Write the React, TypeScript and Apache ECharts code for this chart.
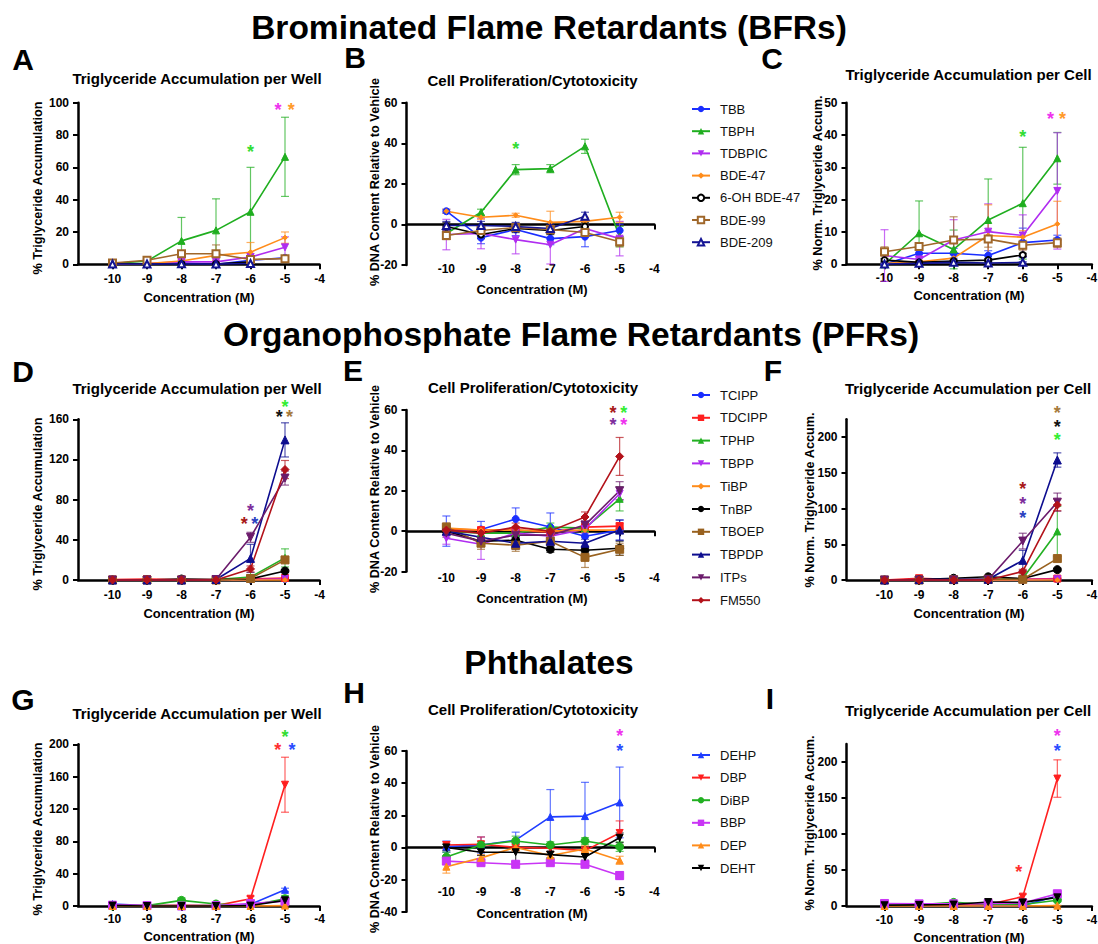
import React, { useEffect, useRef } from "react";
import * as echarts from "echarts";

// ---------------- DATA ----------------
const CONC = [-10, -9, -8, -7, -6, -5];
const X_TICKS = [-10, -9, -8, -7, -6, -5, -4];

const BFR = ["TBB", "TBPH", "TDBPIC", "BDE-47", "6-OH BDE-47", "BDE-99", "BDE-209"];
const PFR = ["TCIPP", "TDCIPP", "TPHP", "TBPP", "TiBP", "TnBP", "TBOEP", "TBPDP", "ITPs", "FM550"];
const PHT = ["DEHP", "DBP", "DiBP", "BBP", "DEP", "DEHT"];

type V = number | null;

// Panel A: Triglyceride accumulation per well (BFRs)
const A_mean: V[][] = [
  [0, 0.2, 0.8, 0, 2.5, 4],
  [0.5, 2, 14.5, 21, 32.5, 66.5],
  [0, 0.5, 1.5, 1.5, 4.5, 10.5],
  [0.3, 0.5, 2, 5.5, 7.5, 16.5],
  [0.5, 0.3, 0.2, 0.2, 1.5, null],
  [0.8, 2.5, 6.5, 6.5, 3, 3.5],
  [0.2, 0.2, 0.3, 0.2, 0.5, null],
];
const A_sem: V[][] = [
  [0.3, 0.3, 0.5, 0.3, 1, 1.2],
  [0.5, 1, 14.5, 19.5, 27.5, 24.5],
  [0.3, 0.5, 0.8, 0.8, 2, 6.5],
  [0.3, 0.5, 1, 3, 6, 3.5],
  [0.3, 0.3, 0.3, 0.3, 0.8, null],
  [0.5, 1, 1.5, 5.5, 2, 1.5],
  [0.2, 0.2, 0.2, 0.2, 0.3, null],
];
const A_stars: [number, number, string][] = [
  [-6, 72, "TBPH"],
  [-5.2, 98, "TDBPIC"],
  [-4.82, 98, "BDE-47"],
];

// Panel B: DNA content (BFRs)
const B_mean: V[][] = [
  [6.5, -6.5, -2.5, -7, -6, -3],
  [-4.5, 6, 27, 27.5, 38.5, -6],
  [-5, -4.5, -7.5, -10, -2, -7],
  [6.5, 3.5, 4.5, 1, 1.5, 3.5],
  [-1, -5, -2, -3, -1, null],
  [-5.5, -3, -1.5, -2.5, -4, -8.5],
  [-0.5, -0.5, -1, -2, 4, null],
];
const B_sem: V[][] = [
  [1, 3, 3, 3, 5, 3],
  [2, 1.5, 2.5, 2, 3.5, 5],
  [7.5, 7.5, 7, 9.5, 4, 8.5],
  [1, 1, 1, 5.5, 2, 2.5],
  [2, 2, 2, 2, 2, null],
  [2, 2, 2, 2, 2, 2.5],
  [2, 2, 2, 2, 2, null],
];
const B_stars: [number, number, string][] = [[-8, 39, "TBPH"]];

// Panel C: Triglyceride accumulation per cell (BFRs)
const C_mean: V[][] = [
  [0, 3.4, 3.4, 2.7, 6.7, 7.5],
  [0, 9.6, 4.6, 13.7, 18.9, 32.8],
  [2.7, 1.5, 7.5, 10.1, 8.9, 22.7],
  [0.3, 0.8, 1.9, 8.9, 8.4, 12.5],
  [1.3, 0.6, 1, 1.3, 2.9, null],
  [3.9, 5.5, 7.5, 7.8, 5.9, 6.7],
  [0.1, 0.3, 0.6, 0.4, 0.6, null],
];
const C_sem: V[][] = [
  [0.5, 1.5, 1.5, 1.5, 4.5, 1.5],
  [0.5, 10, 6, 12.7, 17.3, 8],
  [8, 1, 6.3, 8.6, 6.4, 18],
  [0.3, 0.5, 1, 9.5, 2, 7],
  [0.5, 0.3, 0.3, 0.5, 0.5, null],
  [1.5, 1, 7.2, 2.5, 1.5, 1.5],
  [0.1, 0.2, 0.2, 0.2, 0.2, null],
];
const C_stars: [number, number, string][] = [
  [-6, 40.7, "TBPH"],
  [-5.2, 46.2, "TDBPIC"],
  [-4.85, 46.2, "BDE-47"],
];

// Panel D: Triglyceride accumulation per well (PFRs)
const D_mean: V[][] = [
  [0, 0, 0, 0, 0.5, 1],
  [0.5, 1, 0.5, 0.5, 1, 2],
  [0, 0, 0, 0.5, 3, 22],
  [0, 0, 0, 0, 0.5, 1],
  [0, 0, 0, 0, 0, 0],
  [0, 0, 1, 0.5, 1, 9],
  [0, 0, 0, 0, 1.5, 20],
  [0, 0, 0, 0.5, 21.5, 139.5],
  [0, 0, 0, 0.5, 42.5, 101.5],
  [0, 0, 0, 0, 11, 110],
];
const D_sem: V[][] = [
  [0.3, 0.3, 0.3, 0.3, 0.5, 0.8],
  [0.5, 0.5, 0.5, 0.5, 0.8, 1],
  [0.3, 0.3, 0.3, 0.5, 1.5, 9],
  [0.3, 0.3, 0.3, 0.3, 0.5, 0.8],
  [0, 0, 0, 0, 0, 0],
  [0.3, 0.3, 0.5, 0.5, 0.8, 1.5],
  [0.3, 0.3, 0.3, 0.3, 1, 2.5],
  [0.3, 0.3, 0.3, 0.5, 14, 17],
  [0.3, 0.3, 0.3, 0.5, 5, 7],
  [0.3, 0.3, 0.3, 0.3, 3, 9],
];
const D_stars: [number, number, string][] = [
  [-6, 72.5, "ITPs"],
  [-6.18, 60, "FM550"],
  [-5.88, 60, "TBPDP"],
  [-5, 176, "TPHP"],
  [-5.17, 166.3, "TnBP"],
  [-4.87, 166.3, "TBOEP"],
];

// Panel E: DNA content (PFRs)
const E_mean: V[][] = [
  [0, 0.8, 6, 2, -2.5, 0.5],
  [1, 0.5, 0.5, -0.5, 2, 2.5],
  [0, -1, -1, 2, 1.5, 16],
  [-3.5, -6.5, -1, -2.5, 1, 18.5],
  [1.5, 0.5, 0.5, 0, 0.5, 0.5],
  [0, -5, -4.5, -9, -9.5, -8.5],
  [2, -6, -7, -5, -13, -9],
  [0, -3, -6, -5, -6, 0.5],
  [-1, -5, -2, -2, 3, 20],
  [0.5, -1, 2, 0, 7, 37],
];
const E_sem: V[][] = [
  [7.5, 4, 5.5, 7, 3, 5],
  [1, 1, 1, 1, 1.5, 1.5],
  [1.5, 2, 2, 2, 2, 6],
  [3, 7.5, 2, 2, 2, 3],
  [1, 1, 1, 1, 1, 1],
  [2, 2, 2, 1.5, 1.5, 3.5],
  [2, 3, 3, 2, 5, 3],
  [2, 2, 3, 2, 2, 5],
  [2, 2, 2, 2, 2, 4.5],
  [1, 1.5, 2, 1.5, 2.5, 9.4],
];
const E_stars: [number, number, string][] = [
  [-5.19, 60.3, "FM550"],
  [-4.88, 60.3, "TPHP"],
  [-5.19, 54.7, "ITPs"],
  [-4.88, 54.7, "TBPP"],
];

// Panel F: Triglyceride accumulation per cell (PFRs)
const F_mean: V[][] = [
  [0, 0, 0, 0, 0.5, 1],
  [0, 2.5, 0.5, 0.5, 1, 2],
  [0, 0, 0, 0.5, 2, 68],
  [0, 0, 0, 0, 0.5, 1],
  [0, 0, 0, 0, 0, 0],
  [0, 0.5, 2.5, 4.5, 2, 14.5],
  [0, 0, 0.5, 1, 1, 30],
  [0, 0.5, 1, 1, 27.5, 168],
  [0, 0, 0, 0.5, 54.5, 109],
  [0, 0, 0, 0, 12, 105],
];
const F_sem: V[][] = [
  [0.3, 0.3, 0.3, 0.3, 0.5, 0.8],
  [0.5, 1, 0.5, 0.5, 0.8, 1],
  [0.3, 0.3, 0.3, 0.5, 1.5, 35],
  [0.3, 0.3, 0.3, 0.3, 0.5, 0.8],
  [0, 0, 0, 0, 0, 0],
  [0.3, 0.5, 1, 1, 1, 2],
  [0.3, 0.3, 0.3, 0.5, 0.8, 3],
  [0.3, 0.3, 0.5, 0.5, 14, 10],
  [0.3, 0.3, 0.3, 0.5, 11, 12.7],
  [0.3, 0.3, 0.3, 0.3, 3, 8],
];
const F_stars: [number, number, string][] = [
  [-6, 132.4, "FM550"],
  [-6, 111.9, "ITPs"],
  [-6, 92.3, "TBPDP"],
  [-5, 239, "TBOEP"],
  [-5, 219.6, "TnBP"],
  [-5, 201, "TPHP"],
];

// Panel G: Triglyceride accumulation per well (phthalates)
const G_mean: V[][] = [
  [2.5, 0.5, 0.5, 0.5, 2, 20],
  [1, 0.5, 1, 0.5, 9, 150],
  [0, 0.5, 7, 2.5, 0.5, 9],
  [1, 0.5, 0, 0.5, 3, 6],
  [0, 0, 0, 0, 0, 0.5],
  [0.5, 0, 0, 0, 0.5, 7],
];
const G_sem: V[][] = [
  [1, 0.5, 0.5, 0.5, 1, 2],
  [0.5, 0.5, 0.5, 0.5, 3, 34],
  [0.5, 0.5, 3, 1, 0.5, 4],
  [0.5, 0.5, 0.5, 0.5, 1, 2],
  [0, 0, 0, 0, 0, 0.5],
  [0.5, 0.3, 0.3, 0.3, 0.5, 2],
];
const G_stars: [number, number, string][] = [
  [-5, 213.6, "DiBP"],
  [-5.21, 198, "DBP"],
  [-4.8, 198, "DEHP"],
];

// Panel H: DNA content (phthalates)
const H_mean: V[][] = [
  [0.5, 1.5, 4.5, 19, 19.5, 28],
  [1.5, 2, 0, -0.5, -2, 9],
  [-6, 1.5, 4, 1.5, 4, 0.5],
  [-8.5, -9.5, -10.5, -9.5, -10.5, -17.5],
  [-12, -6.5, 0, -5, -1, -8],
  [0, -3, -3, -4.5, -6, 6],
];
const H_sem: V[][] = [
  [3.5, 5, 5, 17, 21, 22],
  [2, 4.5, 2, 2, 2, 7.5],
  [3, 2, 3, 2, 2, 3],
  [2, 2, 2, 2, 2, 2.5],
  [4, 2, 2, 2, 2, 2.5],
  [2, 2, 6, 2, 2, 3],
];
const H_stars: [number, number, string][] = [
  [-5, 72, "BBP"],
  [-5, 62.7, "DEHP"],
];

// Panel I: Triglyceride accumulation per cell (phthalates)
const I_mean: V[][] = [
  [1.5, 0.5, 0.5, 0.5, 0.5, 14],
  [1, 1, 1.5, 2, 13, 177],
  [1, 1.5, 5, 2.5, 2, 8],
  [3.5, 3, 3, 3.5, 4, 17],
  [0, 0, 0, 0, 0, 0.5],
  [1, 1.5, 2, 5.5, 5, 12],
];
const I_sem: V[][] = [
  [1, 0.5, 0.5, 0.5, 0.5, 3],
  [0.5, 0.5, 0.5, 1, 3, 26],
  [0.5, 0.5, 1, 1, 1, 2],
  [1, 1, 1, 1, 1, 3],
  [0, 0, 0, 0, 0, 0.5],
  [0.5, 0.5, 1, 2, 2, 3],
];
const I_stars: [number, number, string][] = [
  [-6.12, 52.2, "DBP"],
  [-5, 241.6, "BBP"],
  [-5, 220.8, "DEHP"],
];

// ---------------- STYLES ----------------
const FONT = "'Liberation Sans', Arial, Helvetica, sans-serif";
const DOWN = "path://M0,0L10,0L5,9Z";

const STYLE: Record<string, { color: string; symbol: string; size: number }> = {
  TBB: { color: "#1a2eff", symbol: "circle", size: 7 },
  TBPH: { color: "#1fae1f", symbol: "triangle", size: 7 },
  TDBPIC: { color: "#b02cf0", symbol: DOWN, size: 7 },
  "BDE-47": { color: "#ff8c1a", symbol: "diamond", size: 5 },
  "6-OH BDE-47": { color: "#000000", symbol: "emptyCircle", size: 6 },
  "BDE-99": { color: "#a0672a", symbol: "emptyRect", size: 7 },
  "BDE-209": { color: "#141494", symbol: "emptyTriangle", size: 7 },
  TCIPP: { color: "#1a2eff", symbol: "circle", size: 7 },
  TDCIPP: { color: "#ff1f1f", symbol: "rect", size: 7 },
  TPHP: { color: "#22b022", symbol: "triangle", size: 7 },
  TBPP: { color: "#b02cf0", symbol: DOWN, size: 7 },
  TiBP: { color: "#ff8c1a", symbol: "diamond", size: 5 },
  TnBP: { color: "#000000", symbol: "circle", size: 8 },
  TBOEP: { color: "#98611f", symbol: "rect", size: 8 },
  TBPDP: { color: "#0d0d8f", symbol: "triangle", size: 8 },
  ITPs: { color: "#6b1b6b", symbol: DOWN, size: 8 },
  FM550: { color: "#b3121a", symbol: "diamond", size: 8 },
  DEHP: { color: "#1f3dff", symbol: "triangle", size: 7 },
  DBP: { color: "#ff1f1f", symbol: DOWN, size: 7 },
  DiBP: { color: "#22b022", symbol: "circle", size: 8 },
  BBP: { color: "#c935f5", symbol: "rect", size: 8 },
  DEP: { color: "#ff8c1a", symbol: "triangle", size: 7 },
  DEHT: { color: "#000000", symbol: DOWN, size: 7 },
};

const STAR: Record<string, string> = {
  TBPH: "#33dd33",
  TDBPIC: "#ee33ee",
  "BDE-47": "#ff9a2a",
  ITPs: "#7d2e9c",
  FM550: "#a81818",
  TBPDP: "#2a40c0",
  TPHP: "#33ee33",
  TnBP: "#111111",
  TBOEP: "#a67a3c",
  TBPP: "#ee33ee",
  DiBP: "#33dd33",
  DBP: "#ff3030",
  DEHP: "#2a4cff",
  BBP: "#ee33ee",
};

type Panel = {
  letter: string;
  title: string;
  yName: string;
  names: string[];
  mean: V[][];
  sem: V[][];
  stars: [number, number, string][];
  box: { left: number; top: number; width: number; height: number };
  xMin: number;
  yMin: number;
  yMax: number;
  yStep: number;
  yLabelMax: number;
  zeroLine: boolean;
  labelY: number;
  letterPos: [number, number];
  titlePos: [number, number];
  yNamePos: [number, number];
  xNamePos: [number, number];
};

const TG_WELL = "Triglyceride Accumulation per Well";
const PROLIF = "Cell Proliferation/Cytotoxicity";
const TG_CELL = "Triglyceride Accumulation per Cell";
const Y_WELL = "% Triglyceride Accumulation";
const Y_DNA = "% DNA Content Relative to Vehicle";
const Y_CELL = "% Norm. Triglyceride Accum.";

const COL1 = { left: 78, width: 241.5, xMin: -11 };
const COL2 = { left: 406.5, width: 247.8, xMin: -11.15 };
const COL3 = { left: 846.5, width: 245.4, xMin: -11.1 };

const PANELS: Panel[] = [
  { letter: "A", title: TG_WELL, yName: Y_WELL, names: BFR, mean: A_mean, sem: A_sem, stars: A_stars,
    box: { left: COL1.left, width: COL1.width, top: 102.7, height: 161.6 }, xMin: COL1.xMin,
    yMin: 0, yMax: 100, yStep: 20, yLabelMax: 100, zeroLine: false, labelY: 279,
    letterPos: [23, 59], titlePos: [197, 78], yNamePos: [38, 188], xNamePos: [199, 297] },
  { letter: "B", title: PROLIF, yName: Y_DNA, names: BFR, mean: B_mean, sem: B_sem, stars: B_stars,
    box: { left: COL2.left, width: COL2.width, top: 102.7, height: 162.3 }, xMin: COL2.xMin,
    yMin: -20, yMax: 60, yStep: 20, yLabelMax: 60, zeroLine: true, labelY: 269.3,
    letterPos: [355, 57], titlePos: [532.5, 80], yNamePos: [375, 182], xNamePos: [532, 289.3] },
  { letter: "C", title: TG_CELL, yName: Y_CELL, names: BFR, mean: C_mean, sem: C_sem, stars: C_stars,
    box: { left: COL3.left, width: COL3.width, top: 102.7, height: 161.6 }, xMin: COL3.xMin,
    yMin: 0, yMax: 50, yStep: 10, yLabelMax: 50, zeroLine: false, labelY: 278.3,
    letterPos: [772, 58], titlePos: [968.5, 74], yNamePos: [818, 183], xNamePos: [969, 295] },
  { letter: "D", title: TG_WELL, yName: Y_WELL, names: PFR, mean: D_mean, sem: D_sem, stars: D_stars,
    box: { left: COL1.left, width: COL1.width, top: 419.3, height: 160.7 }, xMin: COL1.xMin,
    yMin: 0, yMax: 160, yStep: 40, yLabelMax: 160, zeroLine: false, labelY: 595,
    letterPos: [23, 371], titlePos: [197, 388], yNamePos: [38, 504], xNamePos: [199, 613] },
  { letter: "E", title: PROLIF, yName: Y_DNA, names: PFR, mean: E_mean, sem: E_sem, stars: E_stars,
    box: { left: COL2.left, width: COL2.width, top: 410, height: 161.5 }, xMin: COL2.xMin,
    yMin: -20, yMax: 60, yStep: 20, yLabelMax: 60, zeroLine: true, labelY: 577.7,
    letterPos: [353, 370], titlePos: [533, 387], yNamePos: [375, 489], xNamePos: [532, 598] },
  { letter: "F", title: TG_CELL, yName: Y_CELL, names: PFR, mean: F_mean, sem: F_sem, stars: F_stars,
    box: { left: COL3.left, width: COL3.width, top: 419.3, height: 160.7 }, xMin: COL3.xMin,
    yMin: 0, yMax: 225, yStep: 50, yLabelMax: 200, zeroLine: false, labelY: 595,
    letterPos: [773, 370], titlePos: [968, 388], yNamePos: [810, 500], xNamePos: [969, 613] },
  { letter: "G", title: TG_WELL, yName: Y_WELL, names: PHT, mean: G_mean, sem: G_sem, stars: G_stars,
    box: { left: COL1.left, width: COL1.width, top: 744.3, height: 161.7 }, xMin: COL1.xMin,
    yMin: 0, yMax: 200, yStep: 40, yLabelMax: 200, zeroLine: false, labelY: 919.3,
    letterPos: [23, 699], titlePos: [197, 713], yNamePos: [38, 829], xNamePos: [199, 936.7] },
  { letter: "H", title: PROLIF, yName: Y_DNA, names: PHT, mean: H_mean, sem: H_sem, stars: H_stars,
    box: { left: COL2.left, width: COL2.width, top: 751, height: 160.7 }, xMin: COL2.xMin,
    yMin: -40, yMax: 60, yStep: 20, yLabelMax: 60, zeroLine: true, labelY: 892,
    letterPos: [354, 692], titlePos: [533, 709], yNamePos: [375, 829], xNamePos: [532, 913] },
  { letter: "I", title: TG_CELL, yName: Y_CELL, names: PHT, mean: I_mean, sem: I_sem, stars: I_stars,
    box: { left: COL3.left, width: COL3.width, top: 744, height: 162 }, xMin: COL3.xMin,
    yMin: 0, yMax: 225, yStep: 50, yLabelMax: 200, zeroLine: false, labelY: 920,
    letterPos: [770, 698], titlePos: [968, 710], yNamePos: [810, 823], xNamePos: [969, 937.7] },
];

const SECTIONS: [string, number, number][] = [
  ["Brominated Flame Retardants (BFRs)", 549, 27],
  ["Organophosphate Flame Retardants (PFRs)", 571, 334],
  ["Phthalates", 549, 662],
];

const LEGENDS: { names: string[]; top: number; gap: number }[] = [
  { names: BFR, top: 102, gap: 8.2 },
  { names: PFR, top: 388, gap: 8.8 },
  { names: PHT, top: 748, gap: 8.6 },
];

function txt(text: string, x: number, y: number, size: number, weight = "bold", rotation = 0) {
  return {
    type: "text",
    x,
    y,
    rotation,
    silent: true,
    z: 10,
    style: {
      text,
      fill: "#000",
      fontSize: size,
      fontWeight: weight,
      fontFamily: FONT,
      align: "center",
      verticalAlign: "middle",
      textAlign: "center",
      textVerticalAlign: "middle",
    },
  };
}

function buildOption() {
  const grid: any[] = [];
  const xAxis: any[] = [];
  const yAxis: any[] = [];
  const series: any[] = [];
  const graphic: any[] = [];

  const axisLineStyle = { color: "#000", width: 2.5 };
  const tickStyle = { color: "#000", width: 2 };
  const labelFont = { fontSize: 12, fontWeight: "bold", fontFamily: FONT, color: "#000" };

  PANELS.forEach((p, i) => {
    grid.push({ ...p.box, containLabel: false, outerBoundsMode: "none" });
    const yTicks: number[] = [];
    for (let v = p.yMin; v <= p.yLabelMax + 1e-9; v += p.yStep) yTicks.push(v);

    const xLabel = (gap: number) => ({
      show: true,
      customValues: X_TICKS,
      margin: gap,
      verticalAlign: "middle",
      ...labelFont,
      formatter: (v: number) => (X_TICKS.includes(v) ? String(v) : ""),
    });

    const bottom = p.box.top + p.box.height;
    const mainX = xAxis.length;
    xAxis.push({
      type: "value",
      gridIndex: i,
      min: p.xMin,
      max: -4,
      axisLine: { show: true, onZero: p.zeroLine, lineStyle: axisLineStyle },
      axisTick: { show: true, customValues: X_TICKS, length: 5, lineStyle: tickStyle },
      axisLabel: p.zeroLine ? { show: false } : xLabel(p.labelY - bottom),
      splitLine: { show: false },
    });
    if (p.zeroLine) {
      xAxis.push({
        type: "value",
        gridIndex: i,
        min: p.xMin,
        max: -4,
        position: "bottom",
        offset: p.labelY - bottom - 8,
        axisLine: { show: false, onZero: false },
        axisTick: { show: false },
        axisLabel: xLabel(8),
        splitLine: { show: false },
      });
    }
    yAxis.push({
      type: "value",
      gridIndex: i,
      min: p.yMin,
      max: p.yMax,
      interval: p.yStep,
      axisLine: { show: true, onZero: false, lineStyle: axisLineStyle },
      axisTick: { show: true, length: 5, customValues: yTicks, lineStyle: tickStyle },
      axisLabel: {
        show: true,
        customValues: yTicks,
        margin: 9,
        ...labelFont,
        formatter: (v: number) => (yTicks.includes(v) ? String(v) : ""),
      },
      splitLine: { show: false },
    });

    // error bars
    const errData: number[][] = [];
    p.names.forEach((name, k) => {
      CONC.forEach((x, j) => {
        const m = p.mean[k][j];
        const e = p.sem[k][j];
        if (m != null && e != null && e > 0) errData.push([x, m, e, k]);
      });
    });
    series.push({
      type: "custom",
      xAxisIndex: mainX,
      yAxisIndex: i,
      data: errData,
      encode: { x: 0, y: 1 },
      silent: true,
      z: 2,
      clip: false,
      renderItem: (_params: any, api: any) => {
        const x = api.value(0);
        const y = api.value(1);
        const e = api.value(2);
        const color = STYLE[p.names[api.value(3)]].color;
        const lo = api.coord([x, y - e]);
        const hi = api.coord([x, y + e]);
        const cap = 4;
        const st = { stroke: color, lineWidth: 1.2, opacity: 0.7 };
        return {
          type: "group",
          children: [
            { type: "line", shape: { x1: lo[0], y1: lo[1], x2: hi[0], y2: hi[1] }, style: st },
            { type: "line", shape: { x1: hi[0] - cap, y1: hi[1], x2: hi[0] + cap, y2: hi[1] }, style: st },
            { type: "line", shape: { x1: lo[0] - cap, y1: lo[1], x2: lo[0] + cap, y2: lo[1] }, style: st },
          ],
        };
      },
    });

    // lines
    p.names.forEach((name, k) => {
      const st = STYLE[name];
      const pts = CONC.map((x, j) => [x, p.mean[k][j]]).filter((d) => d[1] != null);
      series.push({
        type: "line",
        name,
        xAxisIndex: mainX,
        yAxisIndex: i,
        data: pts,
        symbol: st.symbol,
        symbolSize: st.size,
        showSymbol: true,
        clip: false,
        z: 3,
        lineStyle: { color: st.color, width: 1.6 },
        itemStyle: { color: st.color, borderColor: st.color },
        emphasis: { disabled: true },
      });
    });

    // significance asterisks
    const starSize = 18;
    series.push({
      type: "custom",
      xAxisIndex: mainX,
      yAxisIndex: i,
      data: p.stars.map(([x, y, n]) => [x, y, p.names.indexOf(n)]),
      encode: { x: 0, y: 1 },
      silent: true,
      z: 4,
      clip: false,
      renderItem: (_params: any, api: any) => {
        const c = api.coord([api.value(0), api.value(1)]);
        const name = p.names[api.value(2)];
        return {
          type: "text",
          x: c[0],
          y: c[1] + starSize * 0.22,
          style: {
            text: "*",
            fill: STAR[name] || STYLE[name].color,
            fontSize: starSize,
            lineHeight: 9,
            fontWeight: "bold",
            fontFamily: FONT,
            align: "center",
            verticalAlign: "middle",
            textAlign: "center",
            textVerticalAlign: "middle",
          },
        };
      },
    });

    graphic.push(txt(p.letter, p.letterPos[0], p.letterPos[1], 30));
    graphic.push(txt(p.title, p.titlePos[0], p.titlePos[1], 15));
    graphic.push(txt(p.yName, p.yNamePos[0], p.yNamePos[1], 12.7, "bold", Math.PI / 2));
    graphic.push(txt("Concentration (M)", p.xNamePos[0], p.xNamePos[1], 13));
  });

  SECTIONS.forEach(([t, x, y]) => graphic.push(txt(t, x, y, 33.5)));

  const legend = LEGENDS.map((l) => ({
    data: l.names,
    orient: "vertical",
    left: 691,
    top: l.top,
    padding: 0,
    itemWidth: 18,
    itemHeight: 8,
    itemGap: l.gap,
    selectedMode: false,
    textStyle: { fontSize: 13, lineHeight: 14, fontFamily: FONT, color: "#111", padding: [0, 0, 0, 5] },
  }));

  return {
    animation: false,
    backgroundColor: "#fff",
    grid,
    xAxis,
    yAxis,
    series,
    legend,
    graphic,
  };
}

export default function App() {
  const ref = useRef<HTMLDivElement>(null);
  useEffect(() => {
    if (!ref.current) return;
    const chart = echarts.init(ref.current, undefined, { renderer: "svg" });
    chart.setOption(buildOption() as any);
    return () => chart.dispose();
  }, []);
  return (
    <div
      ref={ref}
      style={{ position: "fixed", left: 0, top: 0, width: 1098, height: 944, background: "#fff" }}
    />
  );
}
